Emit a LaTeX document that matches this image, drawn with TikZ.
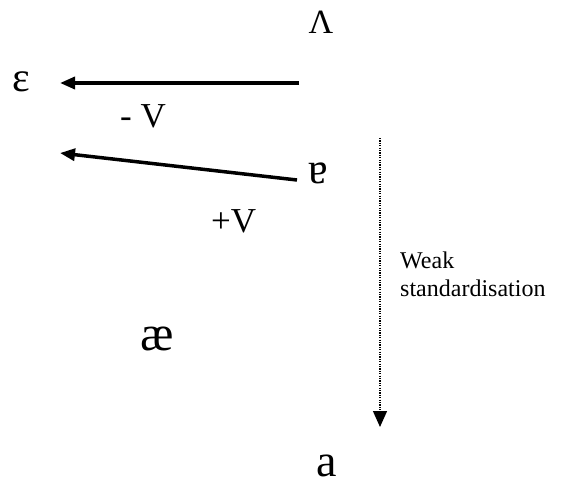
\documentclass[tikz,border=0pt]{standalone}
\usepackage{fontspec}
\setmainfont{Liberation Serif}
\usetikzlibrary{arrows.meta}
\begin{document}
\begin{tikzpicture}[x=1pt,y=-1pt,
  sym/.style={inner sep=0pt, anchor=base},
  lbl/.style={inner sep=0pt, anchor=base west},
  solidarrow/.style={line width=3.5pt, -{Triangle[length=15pt,width=12pt]}},
  dotarrow/.style={line width=1.3pt, dash pattern=on 1.2pt off 1.2pt, -{Triangle[length=16pt,width=14pt]}}]
\useasboundingbox (0,0) rectangle (568,487);
\node[sym, font=\fontsize{34}{40}\selectfont] (L) at (321,34) {Λ};
\node[sym, font=\fontsize{42}{48}\selectfont] (eps) at (21,92) {ε};
\node[sym, font=\fontsize{44}{52}\selectfont] (turna) at (318,183) {ɐ};
\node[lbl, font=\fontsize{35}{40}\selectfont] (mV) at (120,128) {- V};
\node[lbl, font=\fontsize{35}{40}\selectfont] (pV) at (211,232) {+V};
\node[lbl, font=\fontsize{24}{28}\selectfont] (ws) at (400,268) {Weak};
\node[lbl, font=\fontsize{24}{28}\selectfont] (st) at (400,296) {standardisation};
\node[sym, font=\fontsize{50}{56}\selectfont] (ae) at (157,350) {æ};
\node[sym, font=\fontsize{46}{56}\selectfont] (a) at (327,476) {a};
\coordinate (s1) at (299,83);
\coordinate (e1) at (60,83);
\coordinate (s2) at (297,180);
\coordinate (e2) at (60,153);
\coordinate (s3) at (380,138);
\coordinate (e3) at (380,427);
\draw[solidarrow] (s1) -- (e1);
\draw[solidarrow] (s2) -- (e2);
\draw[dotarrow] (s3) -- (e3);
\end{tikzpicture}
\end{document}
